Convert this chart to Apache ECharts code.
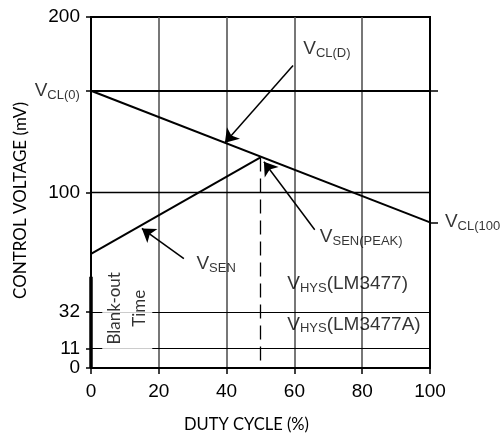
<!DOCTYPE html>
<html>
<head>
<meta charset="utf-8">
<script src="https://cdn.jsdelivr.net/npm/echarts@6/dist/echarts.min.js"></script>
<style>
  html, body { margin: 0; padding: 0; background: #fff; }
  #chart { width: 500px; height: 438px; }
</style>
</head>
<body>
<div id="chart"></div>
<script>
// values
var xTicks = [0, 20, 40, 60, 80, 100];
var yLabelValues = [0, 11, 32, 100, 200];
var vclDuty = [0, 100];
var vclVolt = [158, 83];
var vsenDuty = [0, 50];
var vsenVolt = [65, 120];
var peakDuty = 50;
var hysLevels = [11, 32];
var refLevel = 100;
var blankOut = [0, 52];

// annotation arrows: tail -> head, in (duty, mV)
var arrowTail = [[59.6, 172.4], [27.4, 62.3], [66, 78.8]];
var arrowHead = [[39.5, 128.3], [15, 79.5], [51, 117.5]];

// annotation texts and anchor points
var noteText = [
  '{v|V}{s|CL(0)}',
  '{v|V}{s|CL(D)}',
  '{v|V}{s|SEN}',
  '{v|V}{s|SEN(PEAK)}',
  '{v|V}{s|CL(100)}',
  '{v|V}{s|HYS}{v|(LM3477)}',
  '{v|V}{s|HYS}{v|(LM3477A)}'
];
var noteX = [-3.3, 62.6, 31.1, 67.5, 104.4, 57.9, 57.9];
var noteY = [158, 182, 59.4, 74.7, 83.4, 48.1, 24.9];

var chart = echarts.init(document.getElementById('chart'));

var richStyle = {
  v: { fontSize: 19, fontFamily: 'Liberation Sans', color: '#000', lineHeight: 22 },
  s: { fontSize: 13, fontFamily: 'Liberation Sans', color: '#000', lineHeight: 22, padding: [9, 0, 0, 0] }
};

var notes = [];
for (var i = 0; i < noteText.length; i++) {
  notes.push({
    value: [noteX[i], noteY[i]],
    name: noteText[i],
    label: { position: i === 0 ? 'left' : 'right' }
  });
}

var arrows = [];
for (var j = 0; j < arrowTail.length; j++) {
  arrows.push({ coords: [arrowTail[j], arrowHead[j]] });
}

var hLines = [];
hysLevels.forEach(function (v) {
  hLines.push({ yAxis: v, lineStyle: { width: 1.2 } });
});
hLines.push({ yAxis: refLevel, lineStyle: { width: 1.4 } });
hLines.push({ yAxis: vclVolt[0], lineStyle: { width: 2 } });

var option = {
  animation: false,
  grid: {
    left: 91, right: 70, top: 17, bottom: 68,
    show: true, borderColor: '#000', borderWidth: 2
  },
  xAxis: {
    type: 'value', min: 0, max: 100, interval: 20,
    name: 'DUTY CYCLE (%)', nameLocation: 'middle', nameGap: 48,
    nameTextStyle: { fontFamily: 'Lato', fontSize: 16.5, color: '#000', padding: [0, 28, 0, 0] },
    axisLine: { show: true, lineStyle: { color: '#000', width: 2 } },
    axisTick: { show: true, inside: false, length: 6, lineStyle: { color: '#000', width: 1.5 } },
    axisLabel: { fontFamily: 'Liberation Sans', fontSize: 19, color: '#000', margin: 14 },
    splitLine: { show: true, lineStyle: { color: '#555', width: 1.6 } }
  },
  yAxis: [{
    type: 'value', min: 0, max: 200, position: 'left',
    name: 'CONTROL VOLTAGE (mV)', nameLocation: 'middle', nameGap: 62,
    nameTextStyle: { fontFamily: 'Lato', fontSize: 17, color: '#000', padding: [0, 16, 0, 0] },
    axisLine: { show: true, lineStyle: { color: '#000', width: 2 } },
    axisTick: { show: true, length: 5, customValues: [0, 11, 32, 100, vclVolt[0], 200], lineStyle: { color: '#000', width: 1.5 } },
    axisLabel: { fontFamily: 'Liberation Sans', fontSize: 19, color: '#000', margin: 11, customValues: yLabelValues },
    splitLine: { show: false }
  }, {
    type: 'value', min: 0, max: 200, position: 'right',
    axisLine: { show: true, lineStyle: { color: '#000', width: 2 } },
    axisTick: { show: true, length: 8, customValues: [vclVolt[0], vclVolt[1]], lineStyle: { color: '#000', width: 1.5 } },
    axisLabel: { show: false },
    splitLine: { show: false }
  }],
  series: [
    {
      name: 'levels', type: 'line', data: [], z: 1,
      markLine: {
        z: 1, silent: true, symbol: 'none', label: { show: false },
        lineStyle: { color: '#000', type: 'solid' },
        data: hLines
      }
    },
    {
      name: 'VCL', type: 'line', symbol: 'none', z: 3,
      lineStyle: { color: '#000', width: 2 },
      data: vclDuty.map(function (d, k) { return [d, vclVolt[k]]; })
    },
    {
      name: 'VSEN', type: 'line', symbol: 'none', z: 3,
      lineStyle: { color: '#000', width: 2 },
      data: vsenDuty.map(function (d, k) { return [d, vsenVolt[k]]; })
    },
    {
      name: 'peak', type: 'line', symbol: 'none', z: 2,
      lineStyle: { color: '#000', width: 1.3, type: [14, 7] },
      data: [[peakDuty, vsenVolt[1]], [peakDuty, 0]]
    },
    {
      name: 'blank-out', type: 'line', symbol: 'none', z: 12,
      lineStyle: { color: '#000', width: 3.5 },
      data: [[0, blankOut[0]], [0, blankOut[1]]]
    },
    {
      name: 'arrows', type: 'lines', coordinateSystem: 'cartesian2d', z: 5,
      symbol: ['none', 'arrow'], symbolSize: 13,
      lineStyle: { color: '#000', width: 1.5, opacity: 1 },
      data: arrows
    },
    {
      name: 'blank-text', type: 'scatter', symbolSize: 0, z: 10,
      label: {
        show: true, position: 'inside', rotate: 90,
        formatter: 'Blank-out\nTime',
        fontFamily: 'Lato', fontSize: 17, color: '#000', lineHeight: 25,
        backgroundColor: '#ffffff', padding: [0, 5]
      },
      data: [[10.7, 34]]
    },
    {
      name: 'notes', type: 'scatter', symbolSize: 0, clip: false, z: 6,
      label: {
        show: true, distance: 0,
        formatter: function (p) { return p.name; },
        rich: richStyle
      },
      data: notes
    }
  ]
};

chart.setOption(option);
</script>
</body>
</html>
